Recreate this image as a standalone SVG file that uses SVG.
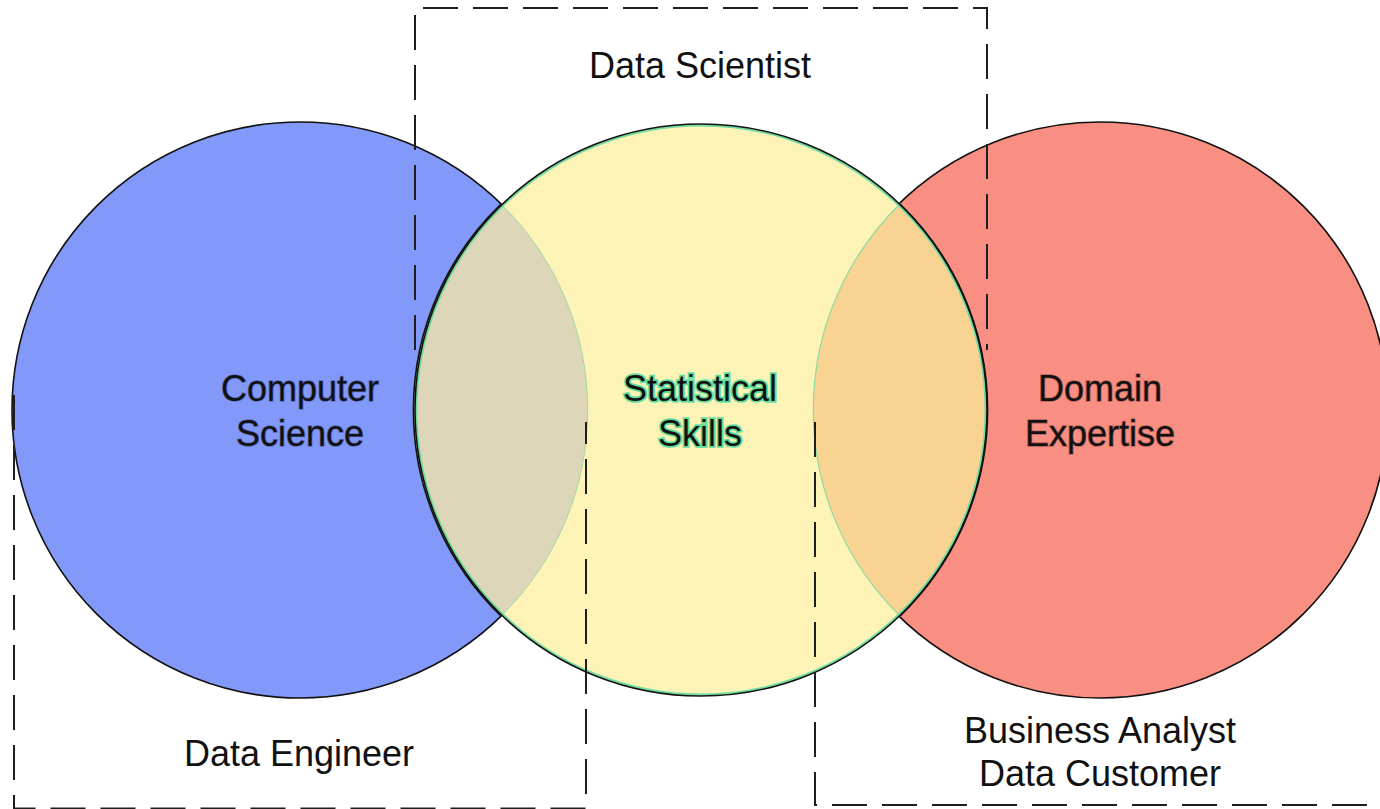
<svg xmlns="http://www.w3.org/2000/svg" width="1380" height="809" viewBox="0 0 1380 809">
  <style>
    .lbl { font-family: "Liberation Sans", Arial, sans-serif; font-size: 36px; fill: #111; text-anchor: middle; }
    .dash { fill: none; stroke: #1e1e1e; stroke-width: 2; stroke-dasharray: 35 15; }
    .outline { fill: none; stroke: #111; stroke-width: 1.6; }
    .halo-cs { stroke: #3f4f9a; stroke-width: 1.6; stroke-opacity: 0.6; paint-order: stroke; }
    .halo-ss { stroke: #62dc9c; stroke-width: 3.5; paint-order: stroke; }
    .halo-de { stroke: #8a3a32; stroke-width: 1.6; stroke-opacity: 0.55; paint-order: stroke; }
  </style>
  <rect width="1380" height="809" fill="#ffffff"/>

  <g id="computer-science">
    <circle cx="300" cy="410" r="288" fill="#8399FA" stroke="#111" stroke-width="1.6"/>
  </g>
  <g id="domain-expertise">
    <circle cx="1100" cy="410" r="288" fill="#F98F82" stroke="#111" stroke-width="1.6"/>
  </g>
  <g id="statistical-skills">
    <circle cx="701" cy="410" r="286" fill="#FEF3B7"/>
  </g>
  <g id="overlaps">
    <path d="M 501 204 A 288 288 0 0 1 501 616 A 286 286 0 0 1 501 204 Z" fill="#DDD6B8" stroke="#9fd8a8" stroke-width="1"/>
    <path d="M 900 204 A 286 286 0 0 1 900 616 A 288 288 0 0 1 900 204 Z" fill="#F9D392" stroke="#8fdaa0" stroke-width="1.2"/>
    <path d="M 501 204 A 286 286 0 0 0 501 616" class="outline"/>
    <path d="M 900 204 A 286 286 0 0 1 900 616" fill="none" stroke="#111" stroke-width="1.6"/>
  </g>
  <g id="stat-outline">
    <circle cx="701" cy="410" r="284.5" fill="none" stroke="#70dca0" stroke-width="2"/>
    <circle cx="701" cy="410" r="286" class="outline"/>
  </g>

  <g id="connectors">
    <polyline id="box-data-scientist" class="dash" points="415,350 415,8 987,8 987,350"/>
    <polyline id="box-data-engineer" class="dash" points="14,395 14,808.5 586,808.5 586,422"/>
    <polyline id="box-business-analyst" class="dash" points="815,422 815,805 1380,805"/>
  </g>

  <g id="labels">
    <text class="lbl halo-cs" x="300" y="401">Computer</text>
    <text class="lbl halo-cs" x="300" y="446">Science</text>
    <text class="lbl halo-ss" x="700" y="401">Statistical</text>
    <text class="lbl halo-ss" x="700" y="446">Skills</text>
    <text class="lbl halo-de" x="1100" y="401">Domain</text>
    <text class="lbl halo-de" x="1100" y="446">Expertise</text>
  </g>
  <g id="role-data-scientist"><text class="lbl" x="700" y="78">Data Scientist</text></g>
  <g id="role-data-engineer"><text class="lbl" x="299" y="766">Data Engineer</text></g>
  <g id="role-business-analyst">
    <text class="lbl" x="1100" y="743">Business Analyst</text>
    <text class="lbl" x="1100" y="786">Data Customer</text>
  </g>
</svg>
